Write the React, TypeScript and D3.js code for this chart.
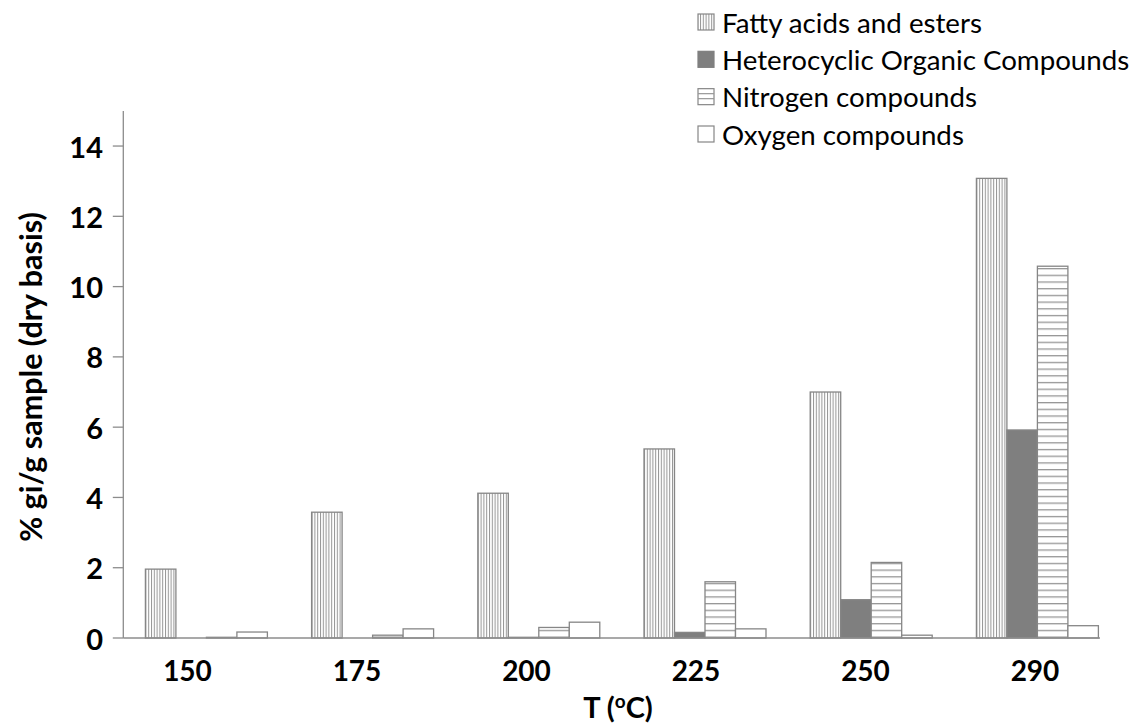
import React from "react";
import * as d3 from "d3";

// Temperatures (°C) for each group of bars
const categories = ["150", "175", "200", "225", "250", "290"];

// % gi/g sample (dry basis) per compound family
const fattyAcids = [1.96, 3.58, 4.12, 5.38, 7.0, 13.08];
const heterocyclic = [0, 0, 0.02, 0.16, 1.09, 5.92];
const nitrogenCompounds = [0.02, 0.08, 0.3, 1.6, 2.15, 10.58];
const oxygenCompounds = [0.17, 0.26, 0.45, 0.26, 0.08, 0.35];

const seriesNames = [
  "Fatty acids and esters",
  "Heterocyclic Organic Compounds",
  "Nitrogen compounds",
  "Oxygen compounds",
];

const yTicks = [0, 2, 4, 6, 8, 10, 12, 14];

const W = 1132;
const H = 727;
const axisX = 123.3;
const baseY = 638;
const topY = 110.9;
const axisRight = 1100;

const FONT = "Lato, 'Open Sans', 'DejaVu Sans', sans-serif";
const EDGE = "#868686";

const fills = ["url(#vlines)", "#7f7f7f", "url(#hlines)", "#ffffff"];

export default function App() {
  const seriesValues = [fattyAcids, heterocyclic, nitrogenCompounds, oxygenCompounds];

  const y = d3.scaleLinear().domain([0, 15]).range([baseY, topY]);

  const x0 = d3
    .scaleBand<string>()
    .domain(categories)
    .range([axisX, 1120.5])
    .paddingInner(0.266)
    .paddingOuter(0.133);

  const x1 = d3
    .scaleBand<string>()
    .domain(seriesNames)
    .range([0, x0.bandwidth()])
    .padding(0);

  // category labels sit on their own evenly spaced positions
  const xLabel = d3.scalePoint<string>().domain(categories).range([187.5, 1035]);

  const legendY = d3.scalePoint<string>().domain(seriesNames).range([22, 134]);

  return (
    <svg
      width={W}
      height={H}
      style={{ position: "absolute", left: 0, top: 0, background: "#fff" }}
      fontFamily={FONT}
    >
      <defs>
        <pattern id="vlines" width={2.8} height={4} patternUnits="userSpaceOnUse">
          <rect width={2.8} height={4} fill="#fff" />
          <rect x={0} y={0} width={1} height={4} fill="#969696" />
        </pattern>
        <pattern id="hlines" width={6} height={6.7} patternUnits="userSpaceOnUse">
          <rect width={6} height={6.7} fill="#fff" />
          <rect x={0} y={0} width={6} height={1.3} fill="#969696" />
        </pattern>
      </defs>

      {/* bars */}
      {categories.map((c, ci) => (
        <g key={c} transform={`translate(${x0(c)},0)`}>
          {seriesNames.map((s, si) => {
            const v = seriesValues[si][ci];
            if (v <= 0) return null;
            const yt = y(v);
            return (
              <rect
                key={s}
                x={x1(s)}
                y={yt}
                width={x1.bandwidth()}
                height={baseY - yt}
                fill={fills[si]}
                stroke={EDGE}
                strokeWidth={1.3}
              />
            );
          })}
        </g>
      ))}

      {/* axes */}
      <line x1={axisX} x2={axisX} y1={topY} y2={baseY} stroke="#8c8c8c" strokeWidth={1.3} />
      <line x1={axisX} x2={axisRight} y1={baseY} y2={baseY} stroke="#8c8c8c" strokeWidth={1.3} />
      {yTicks.map((t) => (
        <g key={t}>
          <line x1={axisX - 10.5} x2={axisX} y1={y(t)} y2={y(t)} stroke="#8c8c8c" strokeWidth={1.3} />
          <text
            x={103}
            y={y(t)}
            textAnchor="end"
            dominantBaseline="central"
            fontSize={29}
            fontWeight={700}
            fill="#000"
          >
            {t}
          </text>
        </g>
      ))}

      {categories.map((c) => (
        <text
          key={c}
          x={xLabel(c)}
          y={681}
          textAnchor="middle"
          fontSize={28}
          fontWeight={700}
          fill="#000"
        >
          {c}
        </text>
      ))}

      {/* axis titles */}
      <text x={618} y={718} textAnchor="middle" fontSize={29} fontWeight={700} fill="#000">
        T (
        <tspan fontSize={19} dy={-10}>
          o
        </tspan>
        <tspan dy={10}>C)</tspan>
      </text>
      <text
        transform={`translate(30,377) rotate(-90)`}
        textAnchor="middle"
        dominantBaseline="central"
        fontSize={30.5}
        fontWeight={700}
        fill="#000"
      >
        % gi/g sample (dry basis)
      </text>

      {/* legend */}
      {seriesNames.map((s, si) => {
        const ly = legendY(s) as number;
        return (
          <g key={s}>
            <rect
              x={698}
              y={ly - 8}
              width={16}
              height={16}
              fill={si === 2 ? "#ffffff" : fills[si]}
              stroke={si === 1 ? "#7f7f7f" : EDGE}
              strokeWidth={1.2}
            />
            {si === 2 &&
              [ly - 3, ly + 2].map((yy) => (
                <line key={yy} x1={698} x2={714} y1={yy} y2={yy} stroke="#969696" strokeWidth={1.2} />
              ))}
            <text x={722} y={ly} dominantBaseline="central" fontSize={27.7} fill="#000">
              {s}
            </text>
          </g>
        );
      })}
    </svg>
  );
}
